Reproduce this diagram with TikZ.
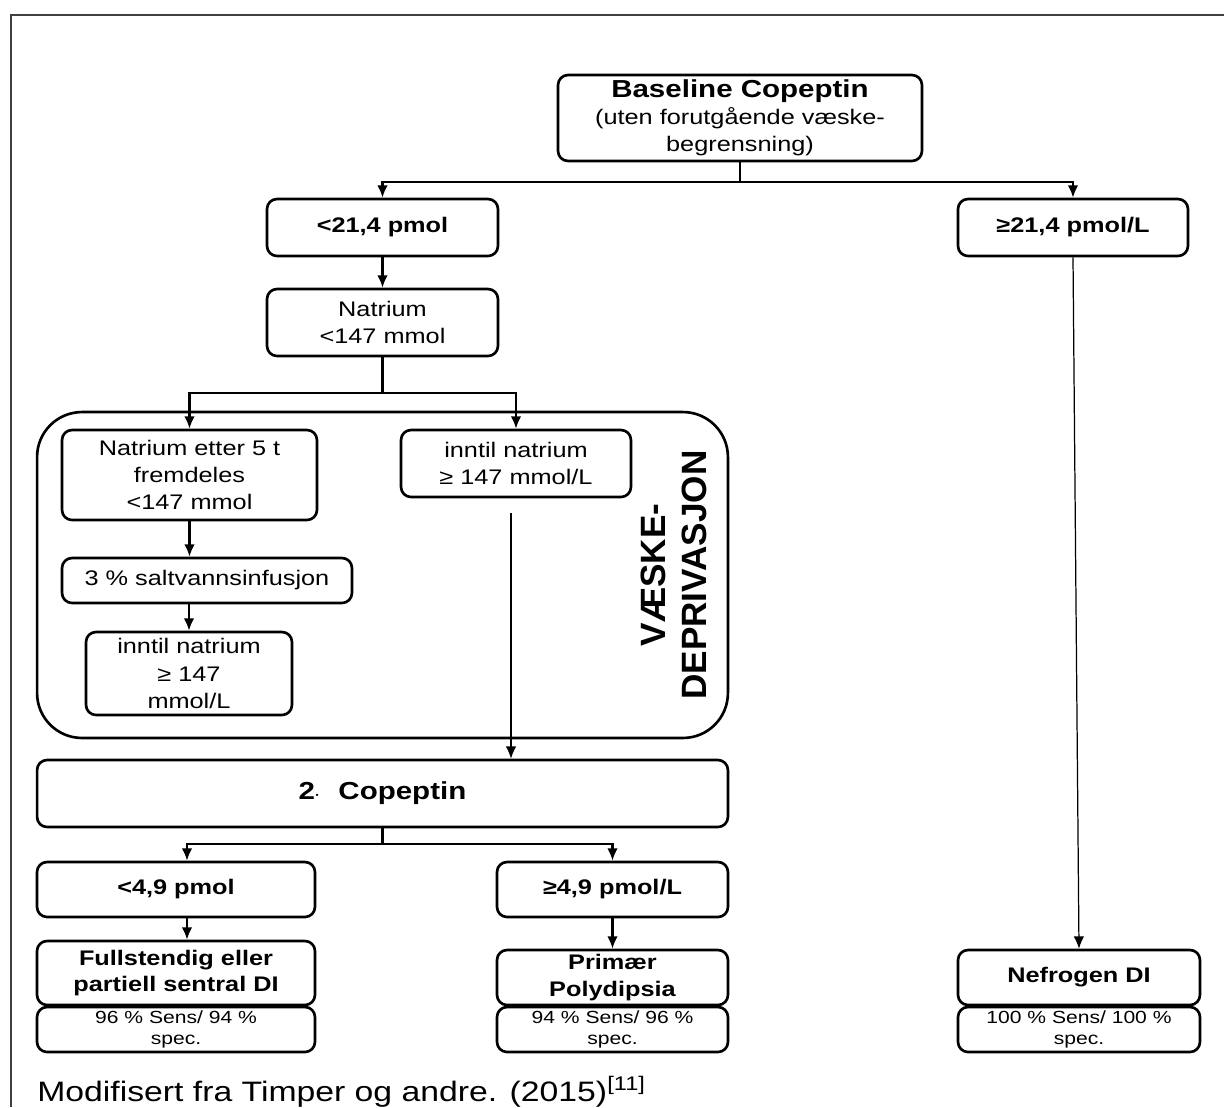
\documentclass[tikz,border=0pt]{standalone}
\usepackage{fontspec}
\setmainfont{Liberation Sans}[FakeStretch=1.2]
\newfontfamily\sidefont{Liberation Sans}
\usetikzlibrary{arrows.meta}

\begin{document}
\begin{tikzpicture}[x=0.02cm, y=-0.02cm, >={Latex[length=7pt,width=6pt]},
  box/.style={draw, line width=1.5pt, rounded corners=0.2cm, align=center, inner sep=1pt,
    font=\fontsize{12}{15.5}\selectfont},
  boldbox/.style={box, font=\fontsize{12}{15}\selectfont\bfseries},
  statbox/.style={box, font=\fontsize{10}{11.5}\selectfont},
  link/.style={line width=1.2pt, ->},
  thinlink/.style={line width=0.7pt, ->}]
  \useasboundingbox (0,0) rectangle (1224,1107);

  % Frame
  \draw[black!75, line width=1.2pt] (1224,15) -- (11,15) -- (11,1107);

  % Baseline test
  \node[box, minimum width=7.28cm, minimum height=1.72cm] (base) at (740,118)
    {{\fontsize{14}{16}\selectfont\bfseries Baseline Copeptin}\\(uten forutgående væske-\\begrensning)};
  \node[boldbox, minimum width=4.62cm, minimum height=1.14cm] (low214) at (382.5,227.5) {<21,4 pmol};
  \node[boldbox, minimum width=4.6cm, minimum height=1.14cm] (high214) at (1073,227.5) {≥21,4 pmol/L};
  \node[box, minimum width=4.62cm, minimum height=1.34cm] (natrium) at (382.5,322.5) {Natrium\\<147 mmol};

  % Fluid deprivation
  \node[draw, line width=1.5pt, rounded corners=0.9cm, minimum width=13.82cm, minimum height=6.52cm] (depr) at (382.5,575) {};
  \node[rotate=90, align=center, font=\sidefont\fontsize{20}{23}\selectfont\bfseries] (deprlabel) at (674,575)
    {VÆSKE-\\DEPRIVASJON};
  \node[box, minimum width=5.1cm, minimum height=1.8cm] (etter) at (189.5,475) {Natrium etter 5 t\\fremdeles\\<147 mmol};
  \node[box, minimum width=4.6cm, minimum height=1.34cm] (untilR) at (516,463.5) {inntil natrium\\≥ 147 mmol/L};
  \node[box, minimum width=5.8cm, minimum height=0.9cm] (saline) at (207,580.5) {3 \% saltvannsinfusjon};
  \node[box, minimum width=4.12cm, minimum height=1.66cm] (untilL) at (189,673.5) {inntil natrium\\≥ 147\\mmol/L};

  % Second copeptin
  \node[box, font=\fontsize{14}{16}\selectfont\bfseries, minimum width=13.82cm, minimum height=1.34cm] (cop2) at (382.5,793.5)
    {2{\fontsize{7}{7}\selectfont ·}\hspace{0.75em}Copeptin};
  \node[boldbox, minimum width=5.56cm, minimum height=1.1cm] (low49) at (176,889.5) {<4,9 pmol};
  \node[boldbox, minimum width=4.62cm, minimum height=1.1cm] (high49) at (612.5,889.5) {≥4,9 pmol/L};

  % Outcomes
  \node[boldbox, minimum width=5.56cm, minimum height=1.28cm] (central) at (176,973) {Fullstendig eller\\partiell sentral DI};
  \node[statbox, minimum width=5.56cm, minimum height=0.9cm] (centralstat) at (176,1029.5) {96 \% Sens/ 94 \%\\spec.};
  \node[boldbox, minimum width=4.62cm, minimum height=1.1cm] (polyd) at (612.5,977.5) {Primær\\Polydipsia};
  \node[statbox, minimum width=4.62cm, minimum height=0.9cm] (polydstat) at (612.5,1029.5) {94 \% Sens/ 96 \%\\spec.};
  \node[boldbox, minimum width=4.84cm, minimum height=1.1cm] (nefro) at (1079,977.5) {Nefrogen DI};
  \node[statbox, minimum width=4.84cm, minimum height=0.9cm] (nefrostat) at (1079,1029.5) {100 \% Sens/ 100 \%\\spec.};

  % Source
  \node[anchor=base west, inner sep=0pt, font=\fontsize{16}{19}\selectfont] (source) at (37,1101)
    {Modifisert fra Timper og andre. (2015)\textsuperscript{[11]}};

  % Connectors
  \draw[link] (base.south) -- ++(0,20) -| (low214.north);
  \draw[link] (base.south) -- ++(0,20) -| (high214.north);
  \draw[link] (low214) -- (natrium);
  \draw[link] (natrium.south) -- ++(0,36) -| (etter.north);
  \draw[link] (natrium.south) -- ++(0,36) -| (untilR.north);
  \draw[link] (etter.south) -- (etter.south |- saline.north);
  \draw[link] (untilL.north |- saline.south) -- (untilL.north);
  \coordinate (gap) at (511,513);
  \draw[thinlink] (gap) -- (gap |- cop2.north);
  \draw[thinlink] (high214.south) -- (nefro.north);
  \draw[link] (cop2.south) -- ++(0,16) -| ([xshift=0.22cm]low49.north);
  \draw[link] (cop2.south) -- ++(0,16) -| (high49.north);
  \draw[link] ([xshift=0.22cm]low49.south) -- ([xshift=0.22cm]central.north);
  \draw[link] (high49) -- (polyd);
\end{tikzpicture}
\end{document}
